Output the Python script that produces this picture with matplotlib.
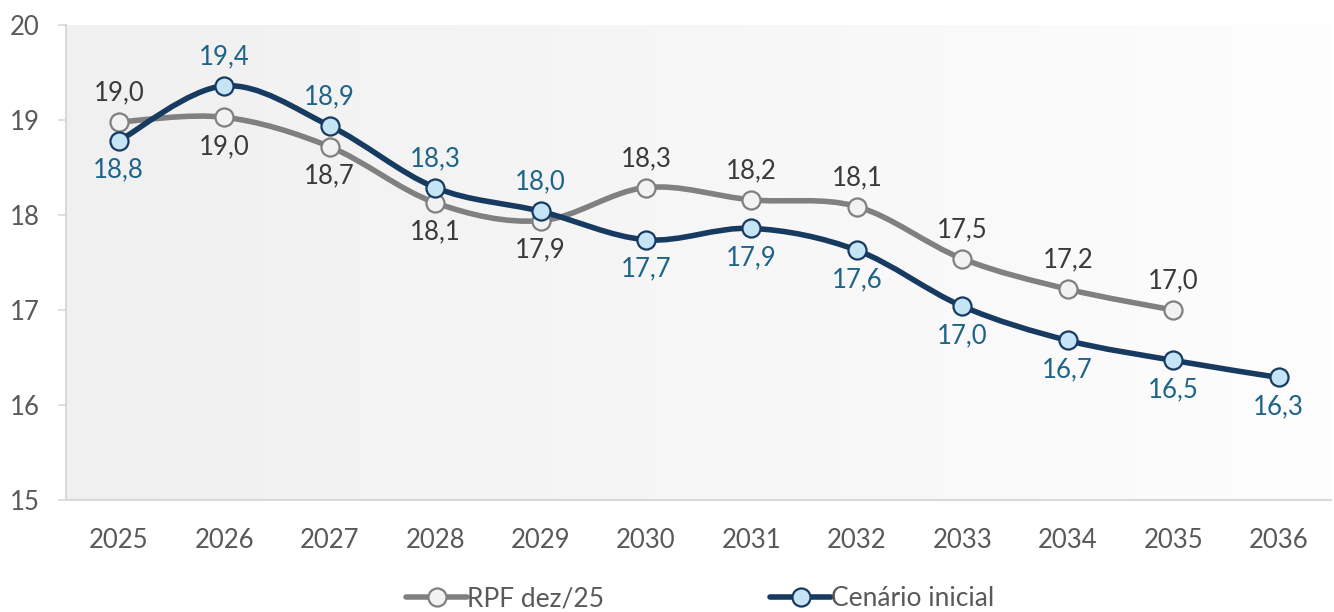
import numpy as np
import matplotlib
matplotlib.use("Agg")
import matplotlib.pyplot as plt
from matplotlib.path import Path
from matplotlib.patches import PathPatch
from matplotlib.lines import Line2D

YEARS = ["2025", "2026", "2027", "2028", "2029", "2030", "2031", "2032", "2033", "2034", "2035", "2036"]
RPF = [18.98, 19.03, 18.72, 18.13, 17.94, 18.29, 18.16, 18.09, 17.54, 17.22, 17.00]  # RPF dez/25
CENARIO = [18.78, 19.36, 18.94, 18.29, 18.04, 17.74, 17.86, 17.63, 17.04, 16.68, 16.47, 16.29]  # Cenário inicial
RPF_LABEL_SIDE = [1, -1, -1, -1, -1, 1, 1, 1, 1, 1, 1]  # 1 above, -1 below
CEN_LABEL_SIDE = [-1, 1, 1, 1, 1, -1, -1, -1, -1, -1, -1, -1]

GRAY = "#808080"
NAVY = "#173a60"
LABEL_GRAY = "#3a3a3a"
LABEL_BLUE = "#1d6488"
FS = 18.5

plt.rcParams["font.family"] = ["Lato", "DejaVu Sans"]


def smooth_path(xs, ys):
    # excel-like smoothing: cubic bezier segments through the points
    pts = np.column_stack([xs, ys]).astype(float)
    n = len(pts)
    verts = [pts[0]]
    codes = [Path.MOVETO]
    for i in range(n - 1):
        p0 = pts[i - 1] if i > 0 else pts[i]
        p1 = pts[i]
        p2 = pts[i + 1]
        p3 = pts[i + 2] if i + 2 < n else pts[i + 1]
        c1 = p1 + (p2 - p0) / 6
        c2 = p2 - (p3 - p1) / 6
        verts += [c1, c2, p2]
        codes += [Path.CURVE4] * 3
    return Path(verts, codes)


fig = plt.figure(figsize=(13.34, 6.12), dpi=100)
ax = fig.add_axes([0.0495, 0.183, 0.9485, 0.776])

x = np.arange(len(YEARS))
ax.set_xlim(-0.5, len(YEARS) - 0.5)
ax.set_ylim(15, 20)

# background gradient
grad = np.linspace(0, 1, 256).reshape(1, -1)
cmap = matplotlib.colors.LinearSegmentedColormap.from_list("bg", ["#f0f0f0", "#fdfdfd"])
ax.imshow(grad, extent=[-0.5, len(YEARS) - 0.5, 15, 20], aspect="auto", cmap=cmap, zorder=0)

series = [
    (RPF, RPF_LABEL_SIDE, GRAY, "#f2f2f2", GRAY, LABEL_GRAY, "RPF dez/25"),
    (CENARIO, CEN_LABEL_SIDE, NAVY, "#c5e4f6", NAVY, LABEL_BLUE, "Cenário inicial"),
]
handles = []
for vals, sides, lc, mface, medge, tcol, name in series:
    xs = x[:len(vals)]
    ax.add_patch(PathPatch(smooth_path(xs, vals), fill=False, edgecolor=lc, lw=4, zorder=2,
                           capstyle="round", joinstyle="round"))
    ax.plot(xs, vals, "o", ms=13, mfc=mface, mec=medge, mew=1.6, zorder=3)
    for xi, v, s in zip(xs, vals, sides):
        ax.annotate(f"{v:.1f}".replace(".", ","), (xi, v), xytext=(0, 21 * s), textcoords="offset points",
                    ha="center", va="center", fontsize=FS, color=tcol, zorder=4)
    handles.append(Line2D([], [], color=lc, lw=4, marker="o", ms=13, mfc=mface, mec=medge, mew=1.6,
                          solid_capstyle="round", label=name))

ax.set_xticks(x)
ax.set_xticklabels(YEARS)
ax.set_yticks([15, 16, 17, 18, 19, 20])
ax.tick_params(axis="x", length=0, pad=20, labelsize=FS, labelcolor="#595959")
ax.tick_params(axis="y", length=6, width=1.2, color="#d9d9d9", pad=13, labelsize=FS, labelcolor="#595959")
for s in ["top", "right"]:
    ax.spines[s].set_visible(False)
for s in ["left", "bottom"]:
    ax.spines[s].set_color("#d9d9d9")
    ax.spines[s].set_linewidth(1.5)

leg = fig.legend(handles=handles, loc="center", bbox_to_anchor=(0.525, 0.022), ncol=2, frameon=False,
                 fontsize=FS + 0.5, handlelength=2.3, handletextpad=0.0, columnspacing=6.3,
                 labelcolor="#595959")

fig.savefig("out.png", dpi=100)
